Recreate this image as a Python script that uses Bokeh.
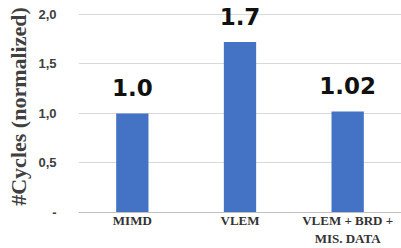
from bokeh.plotting import figure
from bokeh.models import ColumnDataSource, FixedTicker, Range1d
from bokeh.core.properties import value
from bokeh.embed import file_html
from bokeh.resources import INLINE

categories = ["MIMD", "VLEM", "VLEM + BRD +\nMIS. DATA"]
cycles = [1.0, 1.72, 1.02]
bar_labels = ["1.0", "1.7", "1.02"]
y_ticks = [0, 0.5, 1.0, 1.5, 2.0]
y_tick_labels = ["-", "0,5", "1,0", "1,5", "2,0"]

src = ColumnDataSource(dict(cat=categories, v=cycles, lab=bar_labels))

p = figure(x_range=categories, y_range=Range1d(0, 2.14), width=401, height=248,
           output_backend="svg", toolbar_location=None,
           min_border_left=78, min_border_right=0, min_border_top=0, min_border_bottom=36)
p.outline_line_color = None
p.background_fill_color = "white"
p.border_fill_color = "white"

p.vbar(x="cat", top="v", width=0.3, source=src, fill_color="#4472C4", line_color=None)
p.text(x="cat", y="v", text="lab", source=src, text_align="center", text_baseline="alphabetic",
       y_offset=-26, text_font=value("DejaVu Sans"), text_font_style="bold",
       text_font_size="23px", text_color="#111111")

p.xgrid.grid_line_color = None
p.ygrid.grid_line_color = "#d9d9d9"
p.ygrid.ticker = FixedTicker(ticks=y_ticks)

ya = p.yaxis[0]
ya.ticker = FixedTicker(ticks=y_ticks)
ya.major_label_overrides = {t: l for t, l in zip(y_ticks, y_tick_labels)}
ya.axis_line_color = None
ya.major_tick_line_color = None
ya.minor_tick_line_color = None
ya.major_tick_out = 0
ya.major_label_standoff = 22
ya.major_label_text_font = "Liberation Sans"
ya.major_label_text_font_style = "bold"
ya.major_label_text_font_size = "13px"
ya.major_label_text_color = "#404040"
ya.axis_label = "#Cycles (normalized)"
ya.axis_label_text_font = "Liberation Serif"
ya.axis_label_text_font_style = "bold"
ya.axis_label_text_font_size = "22px"
ya.axis_label_text_color = "#404040"
ya.axis_label_standoff = 4

xa = p.xaxis[0]
xa.axis_line_color = "#bfbfbf"
xa.major_tick_line_color = None
xa.minor_tick_line_color = None
xa.major_tick_out = 0
xa.major_label_standoff = 0
xa.major_label_text_font = "Liberation Serif"
xa.major_label_text_font_style = "bold"
xa.major_label_text_font_size = "13px"
xa.major_label_text_color = "#333333"
xa.major_label_orientation = "horizontal"

open("out.html", "w").write(file_html(p, INLINE))
